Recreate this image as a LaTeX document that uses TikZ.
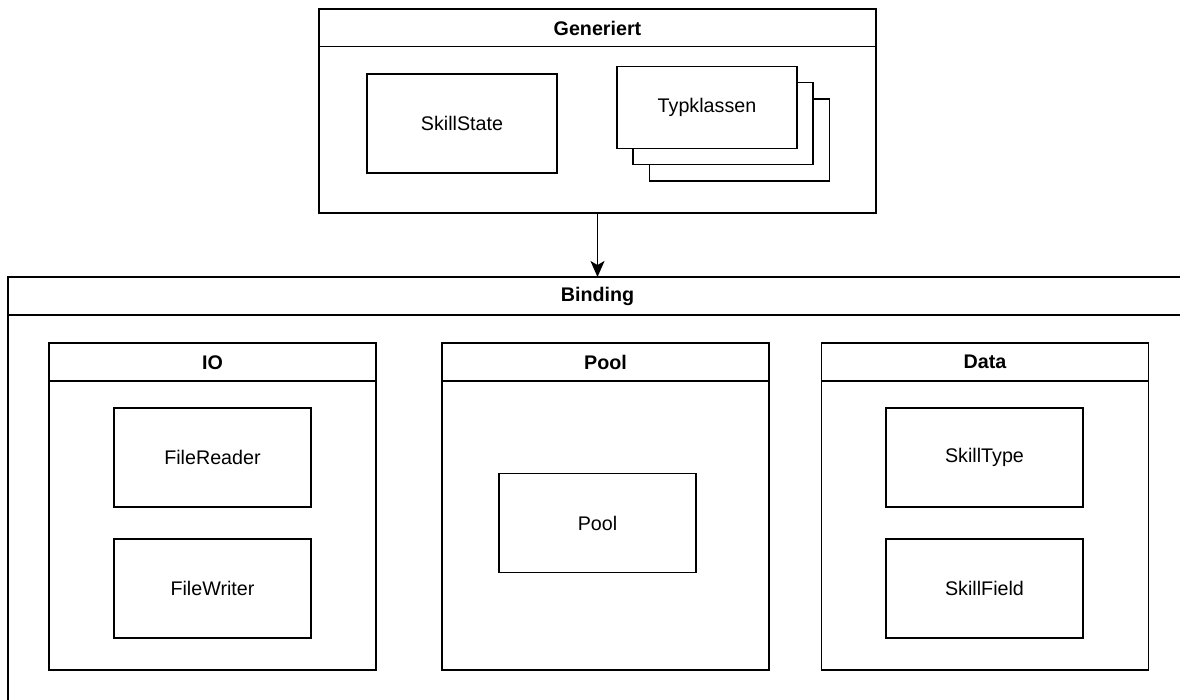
\documentclass[tikz,border=0pt]{standalone}
\usepackage{fontspec}
\setmainfont{Liberation Sans}
\usetikzlibrary{arrows.meta}

\begin{document}
\begin{tikzpicture}[x=1pt, y=-1pt,
  every node/.style={inner sep=0pt, outer sep=0pt},
  txt/.style={font=\fontsize{19.7}{23.6}\selectfont},
  ttl/.style={font=\fontsize{19.7}{23.6}\selectfont\bfseries},
  lane/.style={draw=black, line width=1.5pt, fill=white},
  cls/.style={draw=black, line width=1.5pt, fill=white, txt,
              minimum width=197pt, minimum height=99pt},
  conn/.style={draw=black, line width=1.5pt,
               -{Stealth[length=16pt, width=14pt, inset=4pt]}}
]
% canvas
\clip (0,0) rectangle (1180,700);
\fill[white] (0,0) rectangle (1180,700);

% ---- Generiert package ----
\node[lane, minimum width=557pt, minimum height=204pt] (gen) at (597.5,111) {};
\draw[line width=1.5pt] ([yshift=-37.5pt]gen.north west) -- ([yshift=-37.5pt]gen.north east);
\node[ttl] (gentitle) at ([yshift=-19pt]gen.north) {Generiert};

\node[cls, minimum width=190pt] (skillstate) at (462,123.5) {SkillState};

% stacked type classes
\node[cls, minimum width=180pt, minimum height=82pt] (typ3) at (739.5,140) {};
\node[cls, minimum width=180pt, minimum height=82pt] (typ2) at (723,123.5) {};
\node[cls, minimum width=180pt, minimum height=82pt] (typ1) at (707,107.3) {Typklassen};

% ---- Binding package ----
\node[lane, minimum width=1192pt, minimum height=443pt] (bind) at (604,498.5) {};
\draw[line width=1.5pt] ([yshift=-38pt]bind.north west) -- ([yshift=-38pt]bind.north east);
\node[ttl] (bindtitle) at (597.5,296) {Binding};

% IO
\node[lane, minimum width=327pt, minimum height=327pt] (io) at (212.5,506.3) {};
\draw[line width=1.5pt] ([yshift=-38.3pt]io.north west) -- ([yshift=-38.3pt]io.north east);
\node[ttl] (iotitle) at ([yshift=-19.5pt]io.north) {IO};
\node[cls] (reader) at (212.5,457.5) {FileReader};
\node[cls] (writer) at (212.5,588.5) {FileWriter};

% Pool
\node[lane, minimum width=327pt, minimum height=327pt] (poolpkg) at (605.5,506.3) {};
\draw[line width=1.5pt] ([yshift=-38.3pt]poolpkg.north west) -- ([yshift=-38.3pt]poolpkg.north east);
\node[ttl] (pooltitle) at ([yshift=-19.5pt]poolpkg.north) {Pool};
\node[cls] (pool) at (597.5,523) {Pool};

% Data
\node[lane, minimum width=327pt, minimum height=327pt] (data) at (985,506.3) {};
\draw[line width=1.5pt] ([yshift=-38.3pt]data.north west) -- ([yshift=-38.3pt]data.north east);
\node[ttl] (datatitle) at ([yshift=-19.5pt]data.north) {Data};
\node[cls] (skilltype) at (984.5,457.5) {SkillType};
\node[cls] (skillfield) at (984.5,588.5) {SkillField};

% dependency
\draw[conn] (gen.south) -- (gen.south |- bind.north);
\end{tikzpicture}
\end{document}
